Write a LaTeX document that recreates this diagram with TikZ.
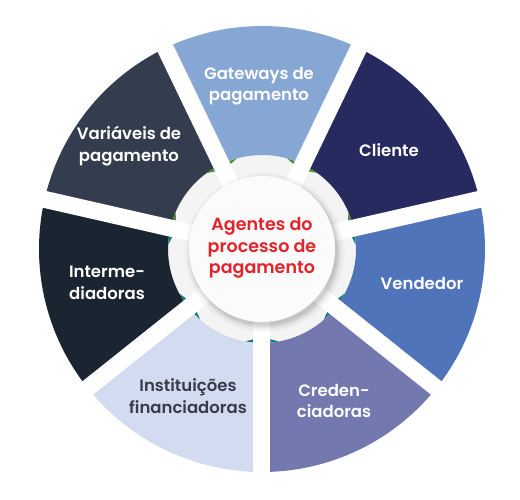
\documentclass[tikz,border=0pt]{standalone}
\usepackage{fontspec}
\newfontfamily\lab{Poppins SemiBold}
\usetikzlibrary{calc}
\definecolor{cGate}{HTML}{86A6D4}
\definecolor{cCli}{HTML}{272A5E}
\definecolor{cVend}{HTML}{4F74BA}
\definecolor{cCred}{HTML}{7378AE}
\definecolor{cInst}{HTML}{D2DBEF}
\definecolor{cInter}{HTML}{1B2532}
\definecolor{cVar}{HTML}{343D4E}
\definecolor{cInstTxt}{HTML}{363C4C}
\definecolor{cRed}{HTML}{E3232B}
\definecolor{cFoldG}{HTML}{4C8F3A}
\definecolor{cFoldT}{HTML}{0F7C7A}
\tikzset{
  seglabel/.style={align=center, text=white, font=\lab\fontsize{16.5}{21.5}\selectfont},
  centerlabel/.style={align=center, text=cRed, font=\lab\fontsize{17.5}{21.5}\selectfont},
}
\newcommand{\segfill}[2]{%
  \pgfmathsetmacro{\sA}{#1-25.7143}\pgfmathsetmacro{\eA}{#1+25.7143}%
  \fill[#2] (\sA:223pt) arc[start angle=\sA, end angle=\eA, radius=223pt]
     -- (\eA:94pt) arc[start angle=\eA, end angle=\sA, radius=94pt] -- cycle;}
\newcommand{\folds}[2]{%
  \begin{scope}[rotate=#1-90]
    \fill[#2] (33pt,88pt) -- (25pt,90.5pt) -- (31.5pt,85pt) -- cycle;
    \fill[#2] (-33pt,88pt) -- (-25pt,90.5pt) -- (-31.5pt,85pt) -- cycle;
  \end{scope}}
\begin{document}
\begin{tikzpicture}[x=1pt,y=1pt]
\useasboundingbox (-262,-251) rectangle (258,249);
\fill[white] (-262,-251) rectangle (258,249);
% inner ring
\fill[gray!9] (0,0) circle[radius=95pt];
% folded corners
\folds{90}{cFoldG}
\folds{38.5714}{cFoldG}
\folds{-12.8571}{cFoldT}
\folds{-64.2857}{cFoldT}
\folds{-115.7143}{cFoldT}
\folds{-167.1429}{cFoldT}
\folds{141.4286}{cFoldG}
% segments
\segfill{90}{cGate}
\segfill{38.5714}{cCli}
\segfill{-12.8571}{cVend}
\segfill{-64.2857}{cCred}
\segfill{-115.7143}{cInst}
\segfill{-167.1429}{cInter}
\segfill{141.4286}{cVar}
% gaps
\foreach \g in {64.2857,12.8571,-38.5714,-90,-141.4286,-192.8571,115.7143}
  \fill[white, rotate=\g] (0,-8.5) rectangle (240,8.5);
% centre circle with soft shadow
\foreach \k/\o in {8/0.02,6/0.03,4/0.04,2.5/0.05,1/0.06}
  \fill[black, opacity=\o] (2.5,-3.5) circle[radius=72pt+\k pt];
\fill[white!97!gray] (0,0) circle[radius=73pt];
\node[centerlabel] (centre) at (0,1) {Agentes do\\processo de\\pagamento};
% labels
\node[seglabel] (gateways) at (-3,163) {Gateways de\\pagamento};
\node[seglabel] (cliente) at (127,99) {Cliente};
\node[seglabel] (vendedor) at (160,-34) {Vendedor};
\node[seglabel] (credenc) at (72,-152) {Creden-\\ciadoras};
\node[seglabel, text=cInstTxt] (instit) at (-74,-147) {Instituições\\financiadoras};
\node[seglabel] (interm) at (-155,-34) {Interme-\\diadoras};
\node[seglabel] (variaveis) at (-133,103) {Variáveis de\\pagamento};
\end{tikzpicture}
\end{document}
